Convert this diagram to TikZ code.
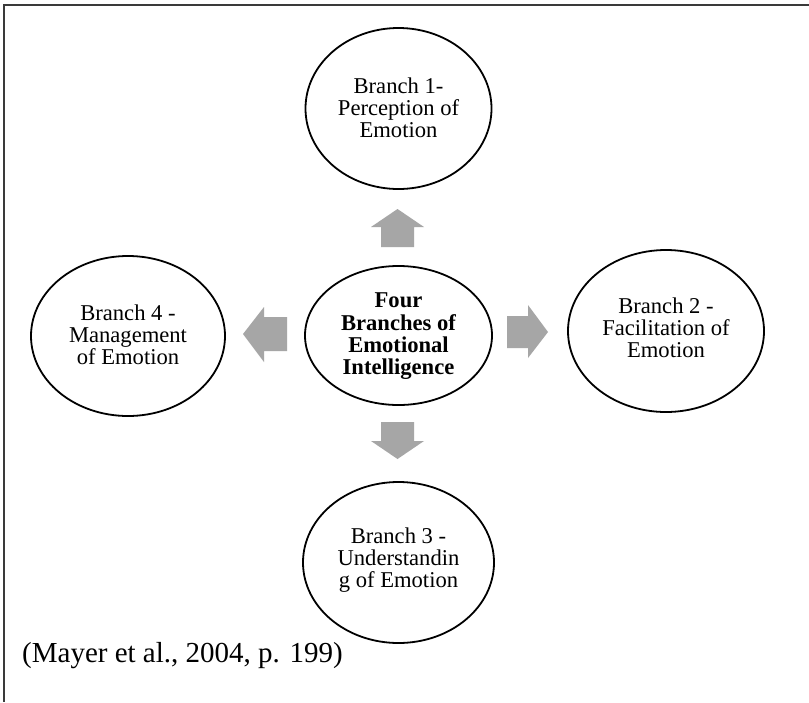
\documentclass[tikz,border=0pt]{standalone}
\usepackage{fontspec}
\setmainfont{Liberation Serif}
\usetikzlibrary{shapes.geometric}
\definecolor{arrowgray}{HTML}{A6A6A6}
\definecolor{framegray}{HTML}{3A3A3A}
\tikzset{
  ell/.style={draw=black, line width=1.8pt, ellipse, inner sep=0pt, fill=white},
  etext/.style={align=center, inner sep=0pt, anchor=north, font=\fontsize{22.6}{22.2}\selectfont},
  ctext/.style={align=center, inner sep=0pt, anchor=north, font=\fontsize{22.6}{22.3}\selectfont\bfseries},
  blockarrow/.style={fill=arrowgray, draw=none},
  frameline/.style={draw=framegray, line width=1.4pt}
}
\begin{document}
\begin{tikzpicture}[x=1pt, y=-1pt]
\useasboundingbox (0,0) rectangle (809,702);
\fill[white] (0,0) rectangle (809,702);
% frame
\coordinate (fa) at (809,5);
\coordinate (fb) at (4,5);
\coordinate (fc) at (4,702);
\draw[frameline] (fa) -- (fb) -- (fc);
% ellipses
\node[ell, minimum width=186pt, minimum height=161pt] (b1) at (398.5,108.5) {};
\node[ell, minimum width=187pt, minimum height=139pt] (c) at (398.5,335.5) {};
\node[ell, minimum width=194pt, minimum height=160pt] (b4) at (128,336) {};
\node[ell, minimum width=196pt, minimum height=162pt] (b2) at (666,331) {};
\node[ell, minimum width=191pt, minimum height=161pt] (b3) at (398.5,562.5) {};
% texts
\node[etext] (t1) at (398.5,77.6) {Branch 1-\\Perception of\\Emotion};
\node[ctext] (tc) at (398.5,292.8) {Four\\Branches of\\Emotional\\Intelligence};
\node[etext] (t4) at (128,304.6) {Branch 4 -\\Management\\of Emotion};
\node[etext] (t2) at (666,297.6) {Branch 2 -\\Facilitation of\\Emotion};
\node[etext] (t3) at (398.5,527.6) {Branch 3 -\\Understandin\\g of Emotion};
% block arrows
\fill[blockarrow] (397.5,209) -- (424,227) -- (414,227) -- (414,247) -- (381,247) -- (381,227) -- (371,227) -- cycle;
\fill[blockarrow] (397.5,459) -- (424,441) -- (414,441) -- (414,422) -- (381,422) -- (381,441) -- (371,441) -- cycle;
\fill[blockarrow] (243,334) -- (264,307) -- (264,317) -- (287,317) -- (287,351) -- (264,351) -- (264,362) -- cycle;
\fill[blockarrow] (548,332) -- (528,305) -- (528,316) -- (507,316) -- (507,348) -- (528,348) -- (528,358) -- cycle;
% citation
\node[anchor=base west, inner sep=0pt, font=\fontsize{29}{34}\selectfont] (cite) at (22,662) {(Mayer et al., 2004, p. 199)};
\end{tikzpicture}
\end{document}
